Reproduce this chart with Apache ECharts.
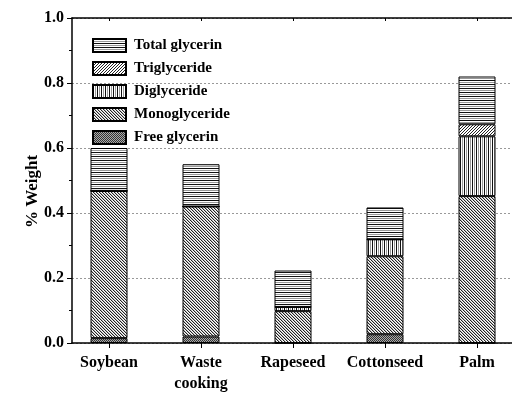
<!DOCTYPE html>
<html>
<head>
<meta charset="utf-8">
<script src="https://cdn.jsdelivr.net/npm/echarts@6/dist/echarts.min.js"></script>
<style>
  html, body { margin: 0; padding: 0; background: #fff; }
  #chart { width: 512px; height: 397px; }
</style>
</head>
<body>
<div id="chart"></div>
<script>
// Oil feedstocks
const categories = ['Soybean', 'Waste\ncooking', 'Rapeseed', 'Cottonseed', 'Palm'];

// % weight of each component, stacked bottom to top
const freeGlycerin  = [0.015, 0.020, 0.000, 0.027, 0.000];
const monoglyceride = [0.453, 0.400, 0.098, 0.240, 0.452];
const diglyceride   = [0.000, 0.000, 0.013, 0.052, 0.184];
const triglyceride  = [0.000, 0.000, 0.000, 0.000, 0.037];
const totalGlycerin = [0.132, 0.130, 0.112, 0.098, 0.147];

const yTicks = [0, 0.2, 0.4, 0.6, 0.8, 1.0];

const FONT = '"Liberation Serif", "Times New Roman", serif';

// Small repeating hatch tiles used as bar fills
function hatch(w, h, paint) {
  const c = document.createElement('canvas');
  c.width = w; c.height = h;
  const g = c.getContext('2d');
  g.fillStyle = '#fff';
  g.fillRect(0, 0, w, h);
  for (let y = 0; y < h; y++) {
    for (let x = 0; x < w; x++) {
      const col = paint(x, y);
      if (col) { g.fillStyle = col; g.fillRect(x, y, 1, 1); }
    }
  }
  return { image: c, repeat: 'repeat' };
}

const fills = {
  horizontal: hatch(4, 4, (x, y) => y === 0 ? '#111' : (y === 2 ? '#999' : null)),
  vertical:   hatch(4, 4, (x, y) => x === 0 ? '#111' : (x === 2 ? '#999' : null)),
  forward:    hatch(3, 3, (x, y) => (x + y) % 3 === 0 ? '#222' : null),
  backward:   hatch(3, 3, (x, y) => (x - y + 3) % 3 === 0 ? '#222' : ((x - y + 3) % 3 === 1 ? '#bbb' : null)),
  cross:      hatch(2, 2, (x, y) => (x + y) % 2 === 0 ? '#333' : '#aaa')
};

function layer(name, values, fill) {
  return {
    name: name,
    type: 'bar',
    stack: 'weight',
    xAxisIndex: 2,
    yAxisIndex: 1,
    barWidth: 37,
    data: values,
    itemStyle: { color: fill, borderColor: '#000', borderWidth: 1 },
    emphasis: { disabled: true }
  };
}

const chart = echarts.init(document.getElementById('chart'), null, { renderer: 'canvas' });

const frameAxis = (pos) => ({
  type: 'value',
  gridIndex: 0,
  position: pos,
  min: 0,
  max: 1,
  axisLine: { onZero: false, lineStyle: { color: '#000', width: 1.5 } },
  axisTick: { show: false },
  axisLabel: { show: false },
  splitLine: { show: false }
});

const categoryAxis = (pos, tickInside, tickLen, labels) => ({
  type: 'category',
  gridIndex: 1,
  position: pos,
  data: categories,
  axisLine: { show: false },
  axisTick: { show: true, alignWithLabel: true, inside: tickInside, length: tickLen, lineStyle: { color: '#000', width: 1 } },
  axisLabel: labels ? {
    margin: 9,
    interval: 0,
    fontFamily: FONT, fontWeight: 'bold', fontSize: 16, color: '#000', lineHeight: 21
  } : { show: false },
  splitLine: { show: false }
});

chart.setOption({
  animation: false,
  backgroundColor: '#fff',
  grid: [
    // plotting frame with the value scale
    { left: 72, right: 0, top: 18, bottom: 54, outerBoundsMode: 'none' },
    // category band layout, 92 px per category
    { left: 63, width: 460, top: 18, bottom: 54, outerBoundsMode: 'none' }
  ],
  legend: {
    orient: 'vertical',
    left: 87,
    top: 33,
    icon: 'rect',
    itemWidth: 33,
    itemHeight: 13,
    itemGap: 8,
    data: ['Total glycerin', 'Triglyceride', 'Diglyceride', 'Monoglyceride', 'Free glycerin'],
    textStyle: { fontFamily: FONT, fontWeight: 'bold', fontSize: 15, color: '#000', padding: [0, 0, 0, 3] }
  },
  xAxis: [
    frameAxis('bottom'),
    frameAxis('top'),
    categoryAxis('bottom', false, 5, true),
    categoryAxis('top', true, 3, false)
  ],
  yAxis: [
    {
      type: 'value',
      gridIndex: 0,
      min: 0,
      max: 1,
      interval: 0.2,
      name: '% Weight',
      nameLocation: 'middle',
      nameGap: 31,
      nameMoveOverlap: false,
      nameTextStyle: { fontFamily: FONT, fontWeight: 'bold', fontSize: 17, color: '#000', padding: [0, 22, 0, 0] },
      axisLine: { show: true, lineStyle: { color: '#000', width: 1.5 } },
      axisTick: { show: true, inside: false, length: 5, lineStyle: { color: '#000', width: 1 } },
      minorTick: { show: true, splitNumber: 2, length: 3, lineStyle: { color: '#000', width: 1 } },
      axisLabel: {
        margin: 8,
        formatter: v => yTicks.some(t => Math.abs(t - v) < 1e-9) ? v.toFixed(1) : '',
        fontFamily: FONT, fontWeight: 'bold', fontSize: 16, color: '#000'
      },
      splitLine: { show: true, lineStyle: { color: '#999', width: 1, type: [2, 2] } }
    },
    {
      type: 'value',
      gridIndex: 1,
      min: 0,
      max: 1,
      show: false
    }
  ],
  series: [
    layer('Free glycerin', freeGlycerin, fills.cross),
    layer('Monoglyceride', monoglyceride, fills.backward),
    layer('Diglyceride', diglyceride, fills.vertical),
    layer('Triglyceride', triglyceride, fills.forward),
    layer('Total glycerin', totalGlycerin, fills.horizontal)
  ]
});
</script>
</body>
</html>
